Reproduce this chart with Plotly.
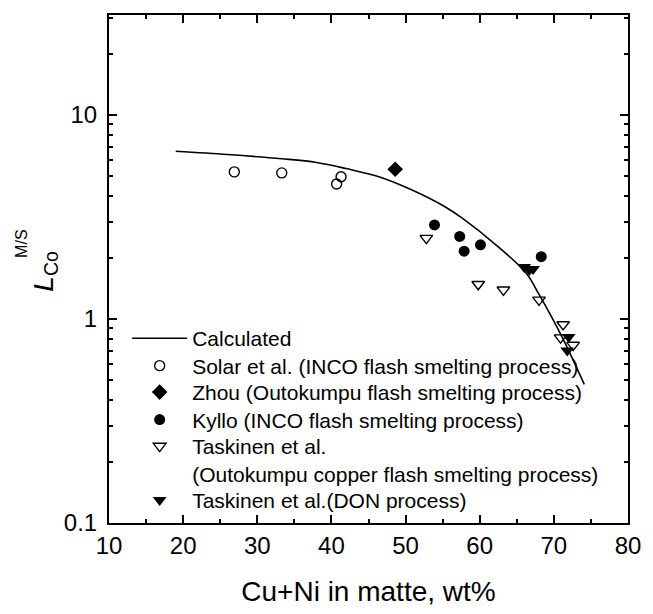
import plotly.graph_objects as go

# Calculated curve
calc_x = [19.0, 26.0, 33.3, 38.0, 42.0, 46.4, 50.8, 55.2, 57.6, 62.3, 66.25, 68.0, 71.1, 74.1]
calc_y = [6.64, 6.40, 6.10, 5.85, 5.46, 4.98, 4.30, 3.57, 3.13, 2.29, 1.68, 1.32, 0.817, 0.478]

solar_x = [26.9, 33.3, 41.3, 40.7]
solar_y = [5.26, 5.20, 4.98, 4.59]

zhou_x = [48.6]
zhou_y = [5.42]

kyllo_x = [53.9, 57.3, 57.9, 60.1, 68.3]
kyllo_y = [2.89, 2.54, 2.15, 2.31, 2.02]

task_x = [52.8, 59.8, 63.2, 68.0, 71.25, 70.9, 72.6]
task_y = [2.49, 1.48, 1.39, 1.24, 0.94, 0.81, 0.745]

don_x = [66.0, 66.7, 67.2, 72.0, 71.8]
don_y = [1.80, 1.74, 1.76, 0.817, 0.70]

x_ticks = [10, 20, 30, 40, 50, 60, 70, 80]
y_ticks = [0.1, 1, 10]
y_tick_text = ["0.1", "1", "10"]
y_minor = [m * 10.0 ** e for e in (-1, 0, 1) for m in range(2, 10)]

FONT = "Liberation Sans, Arial, sans-serif"

fig = go.Figure()
fig.add_trace(go.Scatter(x=calc_x, y=calc_y, mode="lines", name="Calculated",
                         line=dict(color="black", width=1.6, shape="spline", smoothing=1.0),
                         legend="legend"))
fig.add_trace(go.Scatter(x=solar_x, y=solar_y, mode="markers",
                         name="Solar et al. (INCO flash smelting process)",
                         marker=dict(symbol="circle-open", size=10, color="black", line=dict(width=1.4)),
                         legend="legend2"))
fig.add_trace(go.Scatter(x=zhou_x, y=zhou_y, mode="markers",
                         name="Zhou (Outokumpu flash smelting process)",
                         marker=dict(symbol="diamond", size=12, color="black"),
                         legend="legend3"))
fig.add_trace(go.Scatter(x=kyllo_x, y=kyllo_y, mode="markers",
                         name="Kyllo (INCO flash smelting process)",
                         marker=dict(symbol="circle", size=11, color="black"),
                         legend="legend4"))
fig.add_trace(go.Scatter(x=task_x, y=task_y, mode="markers",
                         name="Taskinen et al.<br>(Outokumpu copper flash smelting process)",
                         marker=dict(symbol="triangle-down-open", size=11, color="black", line=dict(width=1.4)),
                         legend="legend5"))
fig.add_trace(go.Scatter(x=don_x, y=don_y, mode="markers",
                         name="Taskinen et al.(DON process)",
                         marker=dict(symbol="triangle-down", size=12, color="black"),
                         legend="legend6"))

axis_common = dict(showline=True, linecolor="black", linewidth=2, mirror="allticks",
                   ticks="inside", ticklen=8, tickwidth=1.5, tickcolor="black",
                   showgrid=False, zeroline=False,
                   tickfont=dict(family=FONT, size=24, color="black"))

fig.update_xaxes(range=[10, 80], tickvals=x_ticks, ticklabelstandoff=0,
                 minor=dict(ticks="inside", ticklen=4, tickwidth=1.5, tickcolor="black", dtick=5, tick0=5),
                 title=dict(text="Cu+Ni in matte, wt%", font=dict(family=FONT, size=28, color="black"), standoff=24),
                 **axis_common)
fig.update_yaxes(type="log", range=[-1, 1.49], tickvals=y_ticks, ticktext=y_tick_text, ticklabelstandoff=5,
                 minor=dict(ticks="inside", ticklen=4, tickwidth=1.5, tickcolor="black", tickvals=y_minor),
                 **axis_common)

# y-axis title: L with stacked sub/superscript
fig.add_annotation(xref="paper", yref="paper", x=-0.123, y=0.495, text="<i>L</i><sub>Co</sub>",
                   showarrow=False, textangle=-90, font=dict(family=FONT, size=28, color="black"),
                   xanchor="center", yanchor="middle")
fig.add_annotation(xref="paper", yref="paper", x=-0.170, y=0.549, text="M/S",
                   showarrow=False, textangle=-90, font=dict(family=FONT, size=16, color="black"),
                   xanchor="center", yanchor="middle")

# legend rows: each entry its own legend box so that row spacing matches
PLOT_BOTTOM, PLOT_H = 533, 518
row_centers = [345, 373, 400, 428, 455, 510]
legend_names = ["legend", "legend2", "legend3", "legend4", "legend5", "legend6"]
legends = {}
for name, yc in zip(legend_names, row_centers):
    legends[name] = dict(x=0.035, y=(PLOT_BOTTOM - (yc - 21)) / PLOT_H, xanchor="left", yanchor="top",
                         bgcolor="rgba(0,0,0,0)", font=dict(family=FONT, size=21, color="black"),
                         itemwidth=55, valign="top")

fig.update_layout(
    width=653, height=614,
    margin=dict(l=109, r=16, t=15, b=81),
    paper_bgcolor="white", plot_bgcolor="white",
    font=dict(family=FONT, color="black"),
    showlegend=True,
    **legends,
)

fig.write_html("out.html")
